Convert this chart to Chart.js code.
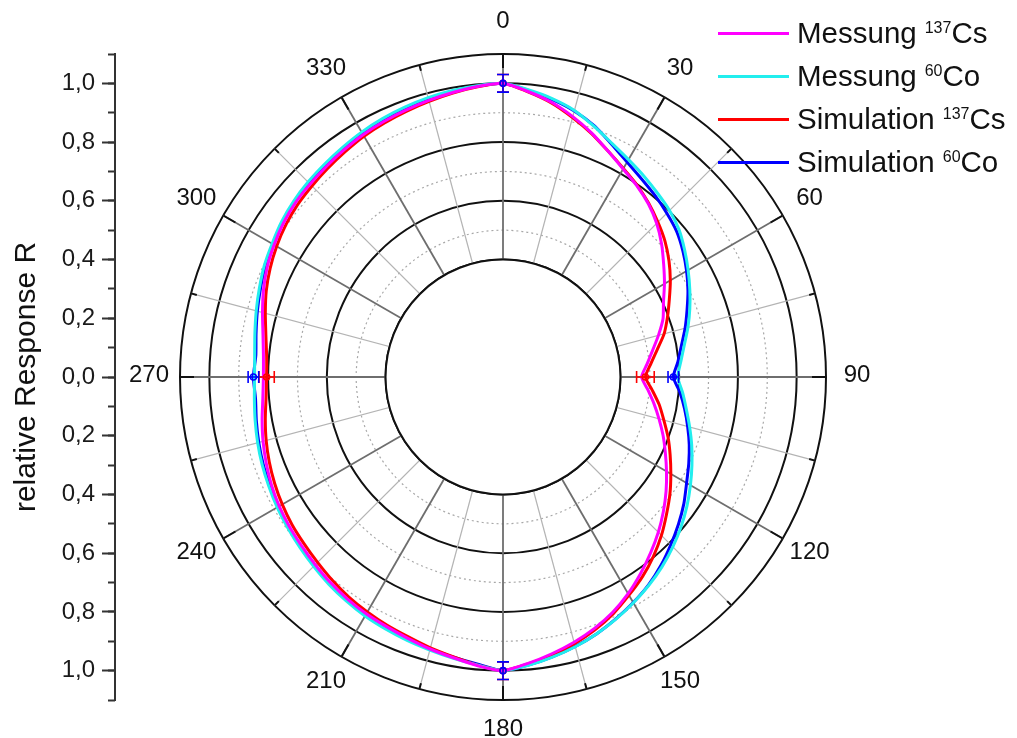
<!DOCTYPE html>
<html>
<head>
<meta charset="utf-8">
<script src="https://cdn.jsdelivr.net/npm/chart.js@4.4.1/dist/chart.umd.min.js"></script>
<style>
  html, body { margin: 0; padding: 0; background: #fff; }
  #wrap { position: relative; width: 1017px; height: 738px; overflow: hidden;
          font-family: "Liberation Sans", Arial, sans-serif; }
  #wrap canvas { position: absolute; left: 0; top: 0; }
  #legend { position: absolute; left: 718px; top: 0; }
  .row { position: absolute; left: 0; height: 40px; display: flex; align-items: center;
         white-space: nowrap; font-size: 29.5px; color: #111; }
  .swatch { width: 71px; height: 3px; margin-right: 8px; }
  .row sup { font-size: 16px; position: relative; top: -0.62em; vertical-align: baseline;
             margin-left: 8px; line-height: 0; }
</style>
</head>
<body>
<div id="wrap">
  <canvas id="polar" width="1017" height="738"></canvas>
  <canvas id="axis" width="1017" height="738"></canvas>
  <div id="legend"></div>
</div>
<script>
// Angular positions (degrees, clockwise from top)
const angles = [0,5,10,15,20,25,30,35,40,45,50,55,60,65,70,75,80,85,
                90,95,100,105,110,115,120,125,130,135,140,145,150,155,160,165,170,175,
                180,185,190,195,200,205,210,215,220,225,230,235,240,245,250,255,260,265,
                270,275,280,285,290,295,300,305,310,315,320,325,330,335,340,345,350,355];
const angleTickLabels = [0,30,60,90,120,150,180,210,240,270,300,330];

// relative response per angle
const messungCs137 = [1.000,0.976,0.950,0.918,0.884,0.848,0.818,0.795,0.770,0.740,0.705,0.668,
                      0.635,0.603,0.580,0.548,0.517,0.492,0.472,0.495,0.522,0.550,0.580,0.610,
                      0.643,0.678,0.713,0.748,0.782,0.817,0.852,0.884,0.911,0.935,0.957,0.979,
                      1.000,0.987,0.971,0.959,0.947,0.938,0.931,0.923,0.914,0.904,0.895,0.888,
                      0.880,0.870,0.858,0.846,0.833,0.821,0.816,0.819,0.830,0.848,0.868,0.886,
                      0.900,0.913,0.923,0.929,0.936,0.944,0.953,0.960,0.967,0.975,0.984,0.993];
const messungCo60  = [1.000,0.982,0.963,0.940,0.908,0.878,0.855,0.836,0.818,0.802,0.782,0.755,
                      0.728,0.702,0.677,0.652,0.627,0.608,0.595,0.614,0.634,0.658,0.684,0.710,
                      0.737,0.765,0.792,0.818,0.843,0.866,0.888,0.910,0.931,0.951,0.969,0.986,
                      1.000,0.985,0.973,0.963,0.955,0.947,0.940,0.931,0.922,0.912,0.903,0.895,
                      0.888,0.880,0.873,0.865,0.857,0.850,0.846,0.849,0.858,0.870,0.883,0.897,
                      0.908,0.921,0.931,0.939,0.946,0.954,0.963,0.971,0.978,0.985,0.991,0.996];
const simulationCs137 = [1.000,0.975,0.948,0.915,0.882,0.848,0.820,0.797,0.772,0.746,0.720,0.690,
                         0.658,0.625,0.596,0.568,0.533,0.505,0.485,0.510,0.540,0.567,0.598,0.628,
                         0.660,0.694,0.727,0.763,0.797,0.829,0.858,0.889,0.916,0.940,0.961,0.981,
                         1.000,0.985,0.968,0.955,0.942,0.933,0.924,0.915,0.904,0.893,0.884,0.877,
                         0.868,0.858,0.847,0.835,0.822,0.810,0.805,0.808,0.820,0.838,0.858,0.875,
                         0.890,0.903,0.913,0.920,0.928,0.937,0.947,0.955,0.963,0.972,0.982,0.992];
const simulationCo60  = [1.000,0.980,0.960,0.938,0.910,0.875,0.845,0.823,0.806,0.789,0.772,0.748,
                         0.722,0.695,0.667,0.642,0.617,0.598,0.580,0.605,0.628,0.651,0.675,0.698,
                         0.722,0.752,0.780,0.808,0.837,0.864,0.887,0.909,0.931,0.950,0.968,0.985,
                         1.000,0.982,0.969,0.959,0.951,0.943,0.936,0.927,0.918,0.908,0.899,0.891,
                         0.884,0.876,0.869,0.861,0.853,0.846,0.850,0.845,0.854,0.866,0.879,0.893,
                         0.904,0.917,0.927,0.935,0.942,0.950,0.959,0.967,0.974,0.981,0.988,0.994];

// uncertainty of the simulated values at the main directions
const errorAngles   = [0, 90, 180, 270];
const errSimCs137   = [0.030, 0.030, 0.030, 0.026];
const errSimCo60    = [0.030, 0.018, 0.030, 0.018];

// legend text: measurement type, mass number, element
const seriesType    = ['Messung', 'Messung', 'Simulation', 'Simulation'];
const seriesMass    = ['137', '60', '137', '60'];
const seriesElement = ['Cs', 'Co', 'Cs', 'Co'];
const seriesColor   = ['#ff00ff', '#22eeee', '#ff0000', '#0000ff'];

// rings of the polar grid
const solidRings  = [0.4, 0.6, 0.8, 1.0, 1.1];
const dottedRings = [0.5, 0.7, 0.9];
const hubValue = 0.4;
const rMax = 1.1;

const FONT = '"Liberation Sans", Arial, sans-serif';
const near = (a, b) => Math.abs(a - b) < 1e-6;
const inList = (list, v) => list.some(x => near(x, v));

const seriesData = [messungCs137, messungCo60, simulationCs137, simulationCo60];

const polarDecor = {
  id: 'polarDecor',
  beforeDatasetsDraw(chart) {
    const r = chart.scales.r;
    const ctx = chart.ctx;
    ctx.save();
    // empty hub inside the innermost ring
    const hub = r.getDistanceFromCenterForValue(hubValue);
    ctx.beginPath();
    ctx.arc(r.xCenter, r.yCenter, hub, 0, Math.PI * 2);
    ctx.fillStyle = '#fff';
    ctx.fill();
    ctx.lineWidth = 2;
    ctx.strokeStyle = '#111';
    ctx.stroke();
    // tick marks on the outer ring
    const outer = r.getDistanceFromCenterForValue(rMax);
    ctx.strokeStyle = '#111';
    ctx.lineWidth = 2;
    angles.forEach((a, i) => {
      if (a % 15 !== 0) return;
      const len = a % 30 === 0 ? 14 : 6;
      const p1 = r.getPointPosition(i, outer);
      const p2 = r.getPointPosition(i, outer - len);
      ctx.beginPath();
      ctx.moveTo(p1.x, p1.y);
      ctx.lineTo(p2.x, p2.y);
      ctx.stroke();
    });
    // angle labels
    ctx.font = '24px ' + FONT;
    ctx.fillStyle = '#111';
    ctx.textAlign = 'center';
    ctx.textBaseline = 'middle';
    angleTickLabels.forEach(a => {
      const i = angles.indexOf(a);
      const p = r.getPointPosition(i, outer + 31);
      ctx.fillText(String(a), p.x, p.y - 2);
    });
    ctx.restore();
  },
  afterDatasetsDraw(chart) {
    const r = chart.scales.r;
    const ctx = chart.ctx;
    const bars = [
      { ds: 2, err: errSimCs137 },
      { ds: 3, err: errSimCo60 }
    ];
    ctx.save();
    ctx.lineWidth = 1.6;
    bars.forEach(b => {
      const data = chart.data.datasets[b.ds].data;
      ctx.strokeStyle = chart.data.datasets[b.ds].borderColor;
      errorAngles.forEach((a, j) => {
        const i = angles.indexOf(a);
        const v = data[i], e = b.err[j];
        const pIn = r.getPointPosition(i, r.getDistanceFromCenterForValue(v - e));
        const pOut = r.getPointPosition(i, r.getDistanceFromCenterForValue(v + e));
        const pc = r.getPointPosition(i, r.getDistanceFromCenterForValue(v));
        const nx = -Math.sin(pc.angle), ny = Math.cos(pc.angle);
        const cap = 6;
        ctx.beginPath();
        ctx.moveTo(pIn.x, pIn.y);
        ctx.lineTo(pOut.x, pOut.y);
        [pIn, pOut].forEach(p => {
          ctx.moveTo(p.x - nx * cap, p.y - ny * cap);
          ctx.lineTo(p.x + nx * cap, p.y + ny * cap);
        });
        ctx.stroke();
        ctx.beginPath();
        ctx.arc(pc.x, pc.y, 3, 0, Math.PI * 2);
        ctx.stroke();
      });
    });
    ctx.restore();
  }
};

const polar = new Chart(document.getElementById('polar'), {
  type: 'radar',
  data: {
    labels: angles,
    datasets: seriesData.map((d, k) => ({
      label: seriesType[k] + ' ' + seriesMass[k] + seriesElement[k],
      data: d,
      borderColor: seriesColor[k],
      backgroundColor: seriesColor[k],
      borderWidth: 3,
      fill: false,
      pointRadius: 0,
      pointHoverRadius: 0,
      tension: 0.2,
      borderJoinStyle: 'round'
    }))
  },
  options: {
    responsive: false,
    animation: false,
    events: [],
    layout: { padding: { top: 54, bottom: 37, left: 180, right: 190 } },
    plugins: { legend: { display: false }, tooltip: { enabled: false } },
    scales: {
      r: {
        min: 0,
        max: rMax,
        startAngle: 0,
        ticks: { display: false, stepSize: 0.1 },
        pointLabels: { display: false },
        grid: {
          circular: true,
          color: c => inList(solidRings, c.tick.value) ? '#111'
                    : inList(dottedRings, c.tick.value) ? '#a8a8a8' : 'rgba(0,0,0,0)',
          lineWidth: c => inList(solidRings, c.tick.value) ? 2 : 1.2
        },
        border: {
          dash: c => inList(dottedRings, c.tick.value) ? [2, 3] : []
        },
        angleLines: {
          color: c => angles[c.index] % 30 === 0 ? '#6e6e6e'
                    : angles[c.index] % 15 === 0 ? '#b4b4b4' : 'rgba(0,0,0,0)',
          lineWidth: c => angles[c.index] % 30 === 0 ? 1.8
                    : angles[c.index] % 15 === 0 ? 1.2 : 0
        }
      }
    }
  },
  plugins: [polarDecor]
});

// linear response axis on the left, aligned with the polar radius
const rs = polar.scales.r;
const axisTop = rs.yCenter - rs.getDistanceFromCenterForValue(rMax);
const axisBottom = rs.yCenter + rs.getDistanceFromCenterForValue(rMax);
const isMajor = v => Math.round(Math.abs(v) * 10) % 2 === 0;
const fmt = v => Math.abs(v).toFixed(1).replace('.', ',');

new Chart(document.getElementById('axis'), {
  type: 'line',
  data: { labels: [], datasets: [] },
  options: {
    responsive: false,
    animation: false,
    events: [],
    layout: { padding: { top: axisTop, bottom: 738 - axisBottom, left: 0, right: 20 } },
    plugins: { legend: { display: false }, tooltip: { enabled: false } },
    scales: {
      x: { display: false },
      y: {
        position: 'left',
        weight: 1,
        min: -rMax,
        max: rMax,
        afterFit: s => { s.width = 115; },
        ticks: {
          stepSize: 0.1,
          autoSkip: false,
          padding: 7,
          color: '#1a1a1a',
          font: { family: FONT, size: 24 },
          callback: v => isMajor(v) && Math.abs(v) <= 1.0001 ? fmt(v) : ''
        },
        grid: {
          drawOnChartArea: false,
          drawTicks: true,
          tickLength: 13,
          tickWidth: 2,
          tickColor: c => isMajor(c.tick.value) && Math.abs(c.tick.value) <= 1.0001 ? '#333' : 'rgba(0,0,0,0)'
        },
        border: { display: true, color: '#333', width: 2 },
        title: {
          display: true,
          text: 'relative Response R',
          color: '#111',
          font: { family: FONT, size: 30 },
          padding: { top: 9, bottom: 0 }
        }
      },
      y2: {
        position: 'left',
        weight: 0,
        min: -rMax,
        max: rMax,
        afterFit: s => { s.width = 0; },
        ticks: { stepSize: 0.1, autoSkip: false, display: false },
        grid: {
          drawOnChartArea: false,
          drawTicks: true,
          tickLength: 7,
          tickWidth: 2,
          tickColor: '#333'
        },
        border: { display: false }
      }
    }
  }
});

// legend
const legend = document.getElementById('legend');
const rowCenters = [33, 76, 119, 162];
seriesType.forEach((t, k) => {
  const row = document.createElement('div');
  row.className = 'row';
  row.style.top = (rowCenters[k] - 20) + 'px';
  const sw = document.createElement('div');
  sw.className = 'swatch';
  sw.style.background = seriesColor[k];
  row.appendChild(sw);
  const txt = document.createElement('span');
  txt.innerHTML = t + '<sup>' + seriesMass[k] + '</sup>' + seriesElement[k];
  row.appendChild(txt);
  legend.appendChild(row);
});
</script>
</body>
</html>
